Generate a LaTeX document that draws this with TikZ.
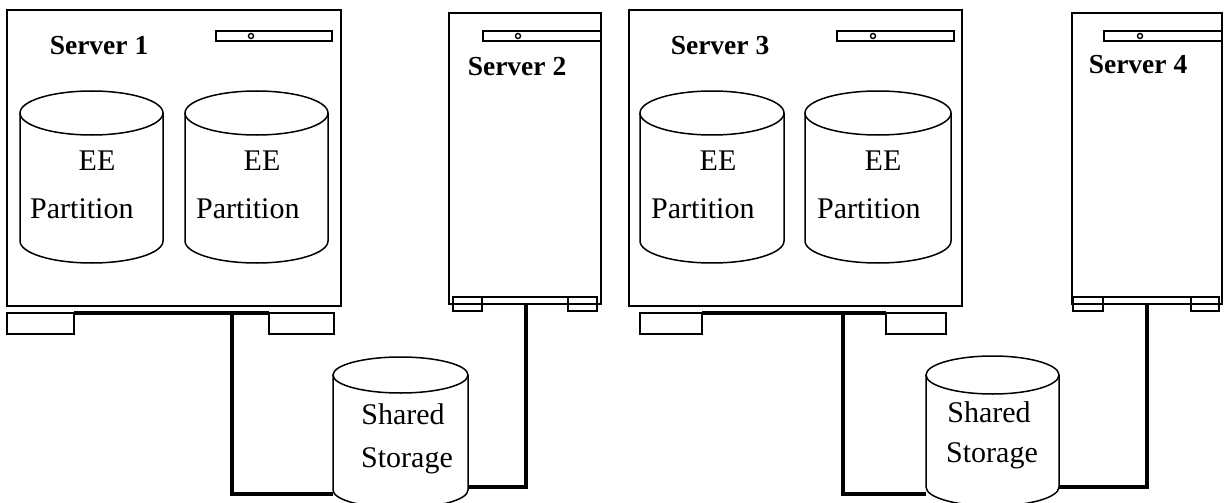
\documentclass[tikz,border=0pt]{standalone}
\usepackage{fontspec}
\setmainfont{Liberation Serif}
\tikzset{
  box/.style={draw, line width=1.6pt, inner sep=0pt, outer sep=0pt},
  cylline/.style={line width=1.5pt},
  conn/.style={line width=3.3pt},
  srvlabel/.style={font=\fontsize{27.5}{30}\selectfont\bfseries, anchor=base, inner sep=0pt},
  txt/.style={font=\fontsize{30}{33}\selectfont, anchor=base, inner sep=0pt},
  txtw/.style={font=\fontsize{30}{33}\selectfont, anchor=base west, inner sep=0pt},
}
% name, x1, y1, x2, y2
\newcommand\boxat[5]{%
  \node[box, minimum width={#4-#2}, minimum height={#5-#3}] (#1) at ({(#2+#4)/2},{(#3+#5)/2}) {};}
% name, cx, rx, ty, ry, by
\newcommand\cylat[6]{%
  \draw[cylline] (#2,#4) ellipse [x radius=#3pt, y radius=#5pt];
  \draw[cylline] (#2-#3,#4) -- (#2-#3,#6) arc[start angle=180, end angle=360, x radius=#3pt, y radius=#5pt] -- (#2+#3,#4);
  \coordinate (#1) at (#2,{(#4+#6)/2});}
\begin{document}
\begin{tikzpicture}[x=1pt, y=-1pt]
\useasboundingbox (0,0) rectangle (1224,503);

% ---------- Server 1 ----------
\boxat{s1}{7}{10}{341}{306}
\boxat{p1}{216}{31}{332}{41}
\draw[line width=1.4pt] (251,36) circle[radius=2.5pt];
\node[srvlabel] (l1) at (99,55) {Server 1};
\cylat{c1a}{91.5}{71.5}{113}{22}{241}
\cylat{c1b}{256.5}{71.5}{113}{22}{241}
\node[txt] (e1a) at (97,170) {EE};
\node[txtw] (q1a) at (30,218) {Partition};
\node[txt] (e1b) at (262,170) {EE};
\node[txtw] (q1b) at (196,218) {Partition};
\boxat{f1l}{7}{313}{74}{334}
\boxat{f1r}{269}{313}{334}{334}
\draw[conn] (f1l.north east) -- (f1r.north west);
\coordinate (t1) at (232,313);

% ---------- Server 2 ----------
\boxat{s2}{449}{13}{601}{304}
\boxat{p2}{483}{31}{601}{41}
\draw[line width=1.4pt] (518,36) circle[radius=2.5pt];
\node[srvlabel] (l2) at (517,75) {Server 2};
\boxat{b2}{453}{297}{597}{304}
\boxat{f2l}{453}{297}{482}{311}
\boxat{f2r}{568}{297}{597}{311}
\coordinate (t2) at (526,304);

% ---------- Shared storage 1 ----------
\cylat{ss1}{400.5}{67.5}{375}{18}{490}
\node[txt] (sh1) at (403,424) {Shared};
\node[txt] (st1) at (407,467) {Storage};
\coordinate (ss1w) at (333,494);
\coordinate (ss1e) at (468,487);
\draw[conn] (t1) |- (ss1w);
\draw[conn] (t2) |- (ss1e);

% ---------- Server 3 ----------
\boxat{s3}{629}{10}{962}{306}
\boxat{p3}{837}{31}{954}{41}
\draw[line width=1.4pt] (873,36) circle[radius=2.5pt];
\node[srvlabel] (l3) at (720,55) {Server 3};
\cylat{c3a}{712}{72}{113}{22}{241}
\cylat{c3b}{878}{73}{113}{22}{241}
\node[txt] (e3a) at (718,170) {EE};
\node[txtw] (q3a) at (651,218) {Partition};
\node[txt] (e3b) at (883,170) {EE};
\node[txtw] (q3b) at (817,218) {Partition};
\boxat{f3l}{640}{313}{702}{334}
\boxat{f3r}{886}{313}{946}{334}
\draw[conn] (f3l.north east) -- (f3r.north west);
\coordinate (t3) at (843,313);

% ---------- Server 4 ----------
\boxat{s4}{1072}{13}{1222}{304}
\boxat{p4}{1104}{31}{1222}{41}
\draw[line width=1.4pt] (1140,36) circle[radius=2.5pt];
\node[srvlabel] (l4) at (1138,74) {Server 4};
\boxat{b4}{1073}{297}{1219}{304}
\boxat{f4l}{1073}{297}{1103}{311}
\boxat{f4r}{1191}{297}{1219}{311}
\coordinate (t4) at (1147,304);

% ---------- Shared storage 2 ----------
\cylat{ss2}{992.5}{66.5}{375}{19}{487}
\node[txt] (sh2) at (989,422) {Shared};
\node[txt] (st2) at (992,462) {Storage};
\coordinate (ss2w) at (926,494);
\coordinate (ss2e) at (1059,487);
\draw[conn] (t3) |- (ss2w);
\draw[conn] (t4) |- (ss2e);
\end{tikzpicture}
\end{document}
